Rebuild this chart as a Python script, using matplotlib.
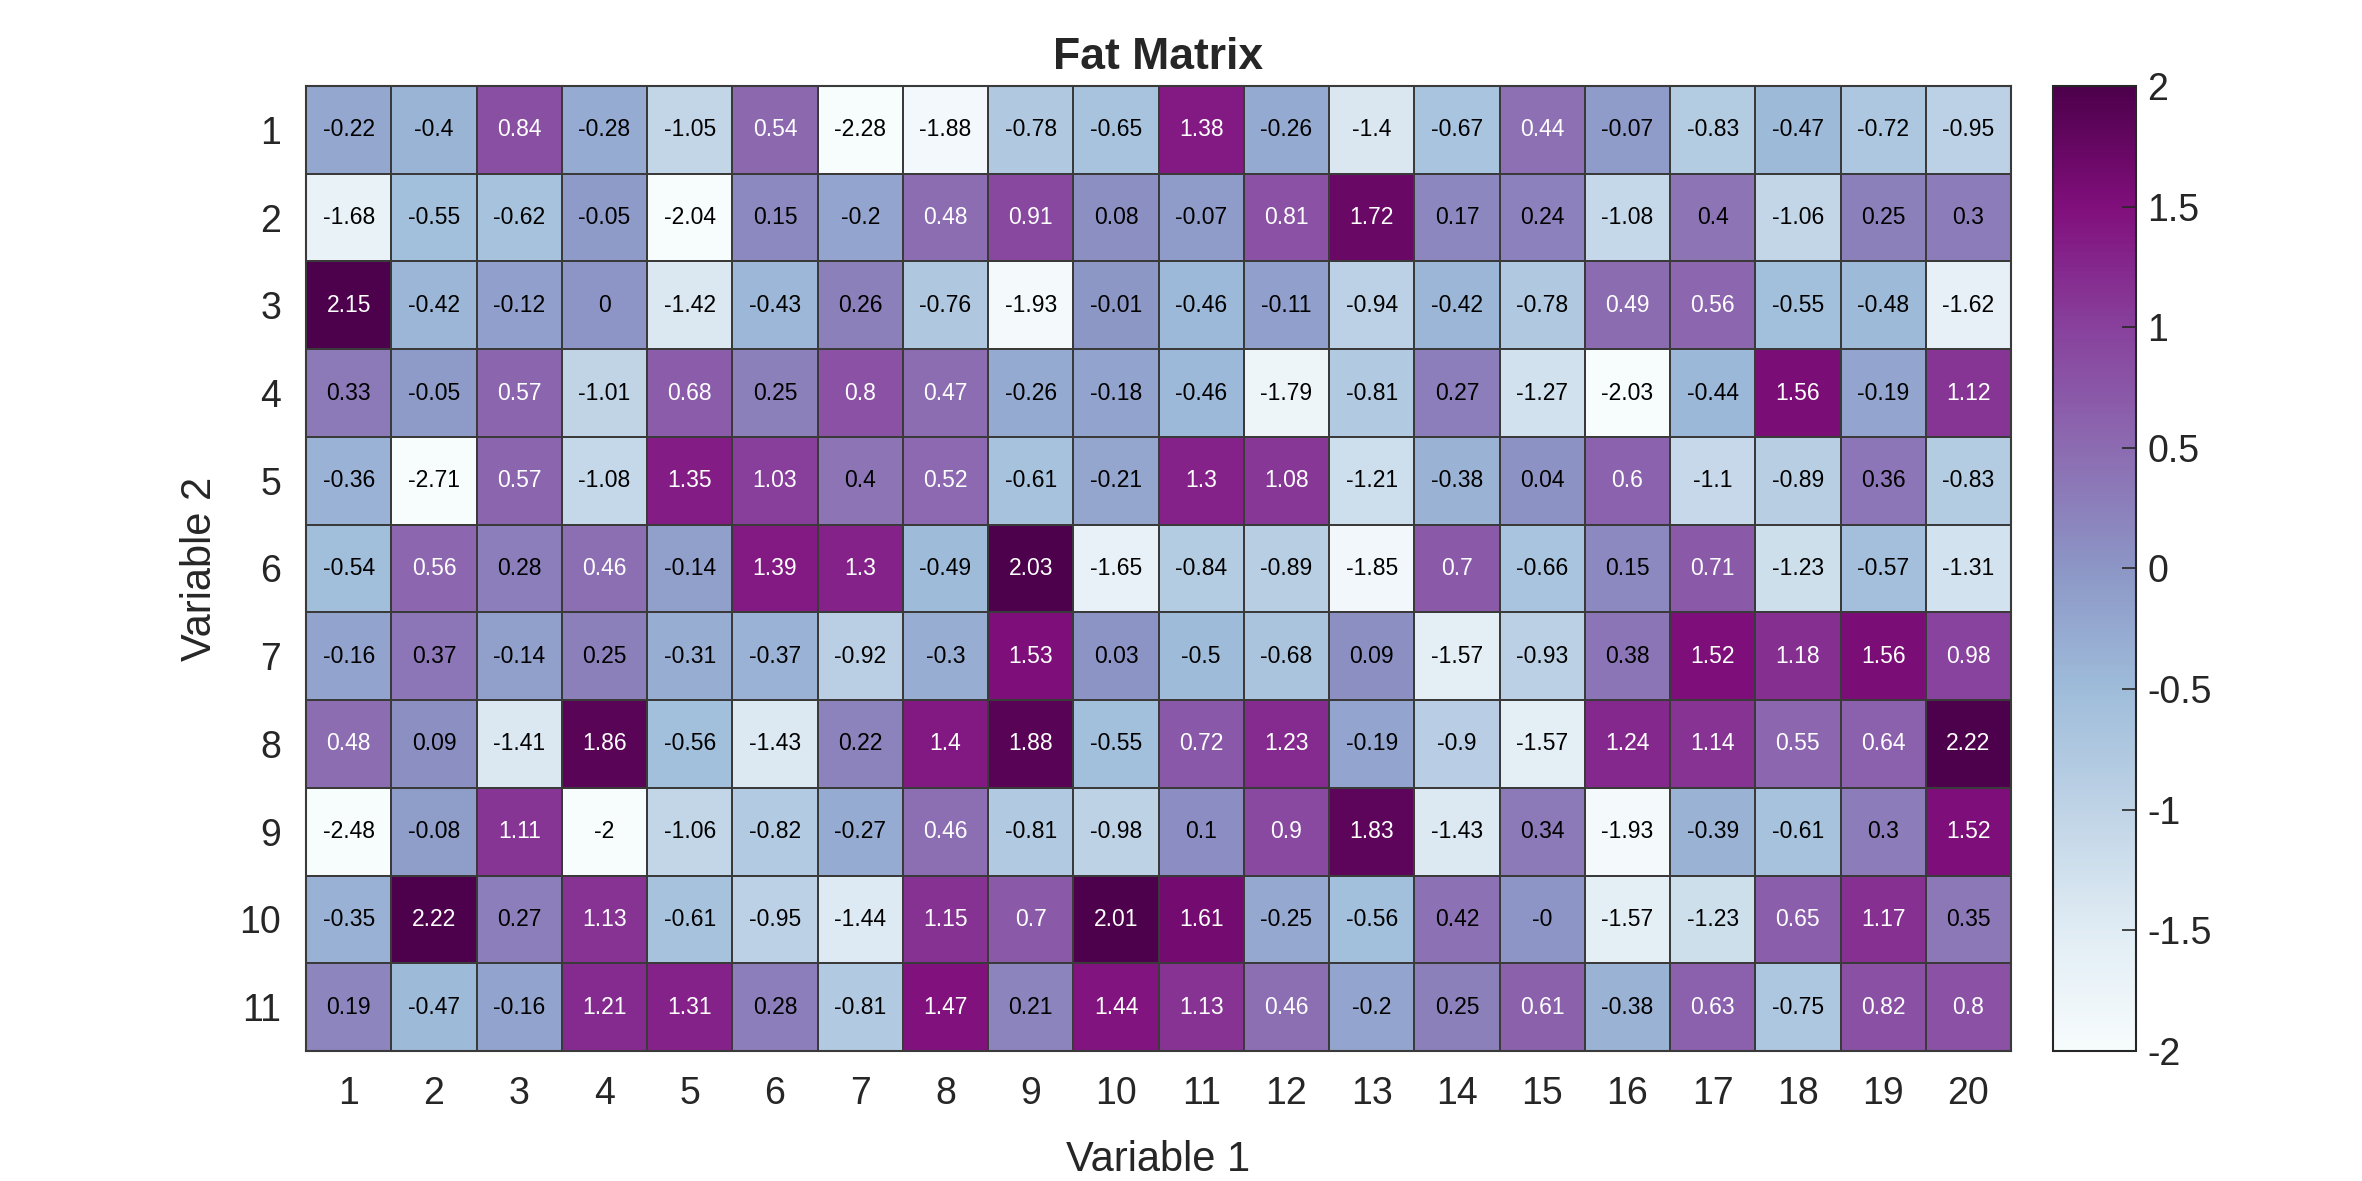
import numpy as np
import matplotlib.pyplot as plt

plt.rcParams['font.family'] = ['Liberation Sans', 'DejaVu Sans']
plt.rcParams['axes.unicode_minus'] = False

# Eixos
var1 = list(range(1, 21))
var2 = list(range(1, 12))

# Matriz (linhas = Variable 2, colunas = Variable 1)
row1 = [-0.22, -0.4, 0.84, -0.28, -1.05, 0.54, -2.28, -1.88, -0.78, -0.65, 1.38, -0.26, -1.4, -0.67, 0.44, -0.07, -0.83, -0.47, -0.72, -0.95]
row2 = [-1.68, -0.55, -0.62, -0.05, -2.04, 0.15, -0.2, 0.48, 0.91, 0.08, -0.07, 0.81, 1.72, 0.17, 0.24, -1.08, 0.4, -1.06, 0.25, 0.3]
row3 = [2.15, -0.42, -0.12, 0, -1.42, -0.43, 0.26, -0.76, -1.93, -0.01, -0.46, -0.11, -0.94, -0.42, -0.78, 0.49, 0.56, -0.55, -0.48, -1.62]
row4 = [0.33, -0.05, 0.57, -1.01, 0.68, 0.25, 0.8, 0.47, -0.26, -0.18, -0.46, -1.79, -0.81, 0.27, -1.27, -2.03, -0.44, 1.56, -0.19, 1.12]
row5 = [-0.36, -2.71, 0.57, -1.08, 1.35, 1.03, 0.4, 0.52, -0.61, -0.21, 1.3, 1.08, -1.21, -0.38, 0.04, 0.6, -1.1, -0.89, 0.36, -0.83]
row6 = [-0.54, 0.56, 0.28, 0.46, -0.14, 1.39, 1.3, -0.49, 2.03, -1.65, -0.84, -0.89, -1.85, 0.7, -0.66, 0.15, 0.71, -1.23, -0.57, -1.31]
row7 = [-0.16, 0.37, -0.14, 0.25, -0.31, -0.37, -0.92, -0.3, 1.53, 0.03, -0.5, -0.68, 0.09, -1.57, -0.93, 0.38, 1.52, 1.18, 1.56, 0.98]
row8 = [0.48, 0.09, -1.41, 1.86, -0.56, -1.43, 0.22, 1.4, 1.88, -0.55, 0.72, 1.23, -0.19, -0.9, -1.57, 1.24, 1.14, 0.55, 0.64, 2.22]
row9 = [-2.48, -0.08, 1.11, -2, -1.06, -0.82, -0.27, 0.46, -0.81, -0.98, 0.1, 0.9, 1.83, -1.43, 0.34, -1.93, -0.39, -0.61, 0.3, 1.52]
row10 = [-0.35, 2.22, 0.27, 1.13, -0.61, -0.95, -1.44, 1.15, 0.7, 2.01, 1.61, -0.25, -0.56, 0.42, -0.0, -1.57, -1.23, 0.65, 1.17, 0.35]
row11 = [0.19, -0.47, -0.16, 1.21, 1.31, 0.28, -0.81, 1.47, 0.21, 1.44, 1.13, 0.46, -0.2, 0.25, 0.61, -0.38, 0.63, -0.75, 0.82, 0.8]

M = np.array([row1, row2, row3, row4, row5, row6, row7, row8, row9, row10, row11])

fig = plt.figure(figsize=(23.62, 11.81), dpi=100)
ax = fig.add_axes([0.1296, 0.1101, 0.7218, 0.8171])
cax = fig.add_axes([0.8692, 0.1101, 0.0351, 0.8171])

mesh = ax.pcolormesh(M, cmap='BuPu', vmin=-2, vmax=2,
                     edgecolors='#3a3a3a', linewidth=1.2)
ax.set_xlim(0, M.shape[1])
ax.set_ylim(M.shape[0], 0)

# Texto nas células
for i in range(M.shape[0]):
    for j in range(M.shape[1]):
        v = M[i, j]
        cor = 'white' if v > 0.43 else 'black'
        ax.text(j + 0.5, i + 0.5, f"{v:g}", ha='center', va='center',
                fontsize=16.5, color=cor)

ax.set_xticks(np.arange(M.shape[1]) + 0.5)
ax.set_xticklabels([str(v) for v in var1])
ax.set_yticks(np.arange(M.shape[0]) + 0.5)
ax.set_yticklabels([str(v) for v in var2])
ax.tick_params(length=0, labelsize=27, pad=18, colors='#262626')
for s in ax.spines.values():
    s.set_color('#3a3a3a')
    s.set_linewidth(1.5)

ax.set_xlabel("Variable 1", fontsize=30, color='#262626', labelpad=20)
ax.set_ylabel("Variable 2", fontsize=30, color='#262626', labelpad=14)
ax.set_title("Fat Matrix", fontsize=32, fontweight='bold', color='#262626', pad=12)

cb = fig.colorbar(mesh, cax=cax, ticks=np.arange(-2, 2.01, 0.5))
cb.ax.set_yticklabels([f"{t:g}" for t in np.arange(-2, 2.01, 0.5)])
cb.ax.tick_params(direction='in', length=10, width=1.2, labelsize=27, pad=8, colors='#262626')
cb.outline.set_edgecolor('#262626')
cb.outline.set_linewidth(1.5)

fig.savefig("out.png", dpi=100)
